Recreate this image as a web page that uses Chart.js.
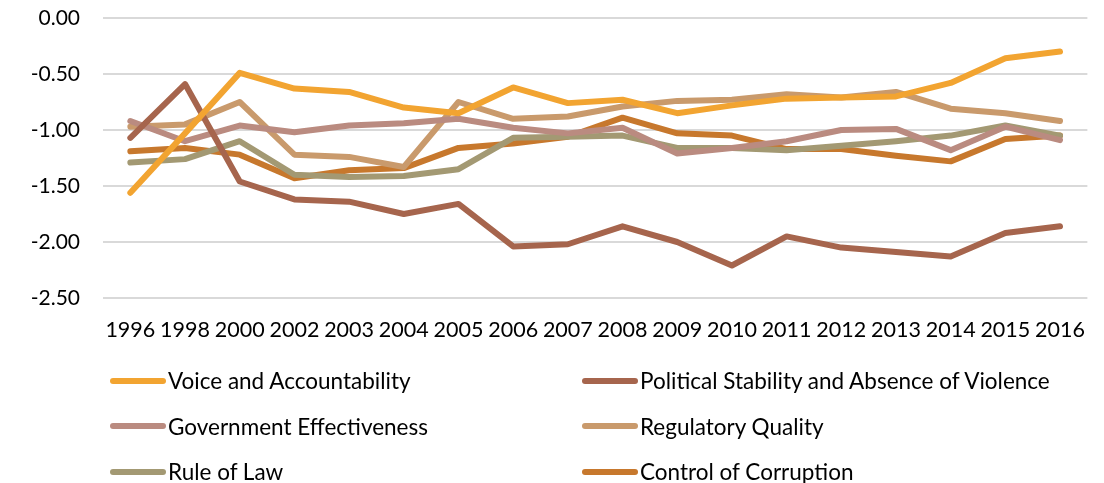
<!DOCTYPE html>
<html>
<head>
<meta charset="utf-8">
<script src="https://cdn.jsdelivr.net/npm/chart.js@4/dist/chart.umd.min.js"></script>
<style>
  body { margin: 0; background: #fff; }
  #wrap { position: relative; width: 1104px; height: 483px; overflow: hidden; }
  #legend { position: absolute; left: 110px; top: 367px; width: 990px;
    font-family: Lato, 'Liberation Sans', sans-serif; font-size: 22.5px; color: #000; }
  .item { position: absolute; display: flex; align-items: center; white-space: nowrap; }
  .swatch { width: 56px; height: 6px; border-radius: 3px; margin-right: 2px; }
</style>
</head>
<body>
<div id="wrap">
  <canvas id="chart" width="1104" height="483"></canvas>
  <div id="legend"></div>
</div>
<script>
const years = ['1996', '1998', '2000', '2002', '2003', '2004', '2005', '2006', '2007',
  '2008', '2009', '2010', '2011', '2012', '2013', '2014', '2015', '2016'];

const voice = [-1.56, -1.03, -0.49, -0.63, -0.66, -0.80, -0.85, -0.62, -0.76,
  -0.73, -0.85, -0.78, -0.72, -0.71, -0.70, -0.58, -0.36, -0.30];
const stability = [-1.07, -0.59, -1.46, -1.62, -1.64, -1.75, -1.66, -2.04, -2.02,
  -1.86, -2.00, -2.21, -1.95, -2.05, -2.09, -2.13, -1.92, -1.86];
const government = [-0.92, -1.10, -0.96, -1.02, -0.96, -0.94, -0.90, -0.98, -1.03,
  -0.98, -1.21, -1.16, -1.10, -1.00, -0.99, -1.18, -0.97, -1.09];
const regulatory = [-0.97, -0.95, -0.75, -1.22, -1.24, -1.33, -0.75, -0.90, -0.88,
  -0.79, -0.74, -0.73, -0.68, -0.71, -0.66, -0.81, -0.85, -0.92];
const ruleOfLaw = [-1.29, -1.26, -1.10, -1.40, -1.42, -1.41, -1.35, -1.07, -1.06,
  -1.05, -1.16, -1.16, -1.18, -1.14, -1.10, -1.05, -0.96, -1.05];
const corruption = [-1.19, -1.16, -1.22, -1.43, -1.36, -1.34, -1.16, -1.12, -1.06,
  -0.89, -1.03, -1.05, -1.17, -1.17, -1.23, -1.28, -1.08, -1.05];

const names = ['Voice and Accountability', 'Political Stability and Absence of Violence',
  'Government Effectiveness', 'Regulatory Quality', 'Rule of Law', 'Control of Corruption'];
const colors = ['#F2A431', '#A6654D', '#BA8B80', '#C99A6C', '#A39973', '#C7782D'];
const series = [voice, stability, government, regulatory, ruleOfLaw, corruption];

const datasets = series.map((data, i) => ({
  label: names[i],
  data: data,
  borderColor: colors[i],
  backgroundColor: colors[i],
  borderWidth: 6,
  borderCapStyle: 'round',
  borderJoinStyle: 'round',
  pointRadius: 0,
  tension: 0,
}));

const font = { family: "Lato, 'Liberation Sans', sans-serif", size: 21 };

new Chart(document.getElementById('chart'), {
  type: 'line',
  data: { labels: years, datasets },
  options: {
    responsive: false,
    animation: false,
    layout: { padding: { top: 18, bottom: 145, left: 0, right: 1 } },
    plugins: { legend: { display: false }, tooltip: { enabled: false } },
    scales: {
      x: {
        offset: true,
        grid: { display: false, drawTicks: false },
        border: { display: false },
        ticks: { color: '#000', font: { ...font, size: 21.5 }, padding: 19, maxRotation: 0, autoSkip: false },
        afterFit: s => { s.height = 40; },
      },
      y: {
        min: -2.5,
        max: 0,
        ticks: { stepSize: 0.5, color: '#000', font, padding: 23,
          callback: v => v.toFixed(2) },
        grid: { color: '#D9D9D9', lineWidth: 2, drawTicks: false },
        border: { display: false },
        afterFit: s => { s.width = 103; s.paddingTop = 0; s.paddingBottom = 0; },
      },
    },
  },
});

// legend in two columns, built from the same names and colours
const legend = document.getElementById('legend');
names.forEach((name, i) => {
  const item = document.createElement('div');
  item.className = 'item';
  item.style.left = (i % 2 ? 472 : 0) + 'px';
  item.style.top = (Math.floor(i / 2) * 45.5) + 'px';
  item.innerHTML = `<span class="swatch" style="background:${colors[i]}"></span>${name}`;
  legend.appendChild(item);
});
</script>
</body>
</html>
